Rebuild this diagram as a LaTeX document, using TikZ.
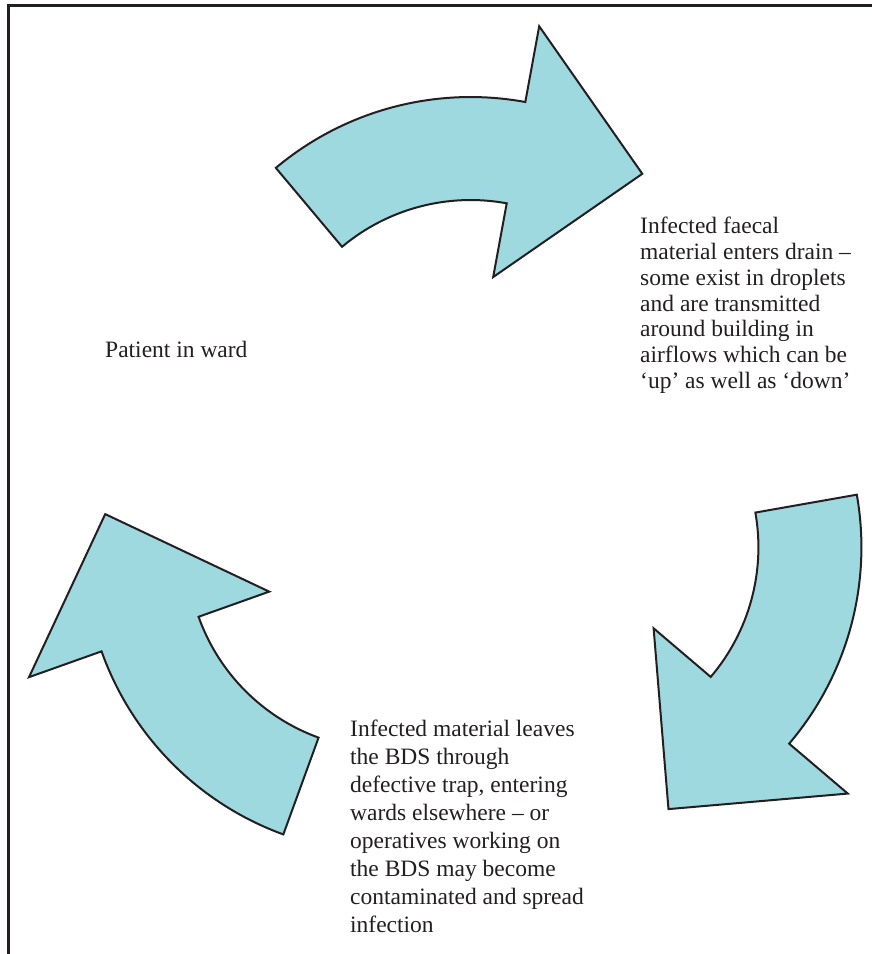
\documentclass[tikz,border=0pt]{standalone}
\usepackage{fontspec}
\setmainfont{Liberation Serif}
\usetikzlibrary{positioning}
\definecolor{flowfill}{RGB}{158,217,224}
\definecolor{inkblack}{RGB}{35,31,32}

\begin{document}
\begin{tikzpicture}[
        x=1pt, y=1pt,
        note/.style={anchor=north west, align=left, inner sep=0pt, text=inkblack, font=\fontsize{23.5}{25.8}\selectfont},
        widenote/.style={note, font=\fontsize{23.5}{27.9}\selectfont},
        flow/.style={draw=inkblack, fill=flowfill, line width=2pt, line join=miter}
    ]
    \useasboundingbox (0,0) rectangle (872,-954);

    % Frame
    \draw[inkblack, line width=3pt] (8,-954) -- (8,-5) -- (872,-5);

    % Arrows
    \foreach \turn in {0,-120,-240}{
        \begin{scope}[shift={(472,-499)}, rotate=\turn, shift={(90.8:99)}]
            \draw[flow] (130:303) arc[start angle=130, end angle=79.6, radius=303]
                -- (79.6:380) -- (52.8:284) -- (79.6:125) -- (79.6:200)
                arc[start angle=79.6, end angle=130, radius=200] -- cycle;
        \end{scope}
    }

    % Text
    \node (ward) at (105,-357) [note, anchor=base west] {Patient in ward};
    \node (drain) at (640,-217) [note] {Infected faecal\\material enters drain –\\some exist in droplets\\and are transmitted\\around building in\\airflows which can be\\‘up’ as well as ‘down’};
    \node (leak) at (350,-720) [widenote] {Infected material leaves\\the BDS through\\defective trap, entering\\wards elsewhere – or\\operatives working on\\the BDS may become\\contaminated and spread\\infection};
\end{tikzpicture}
\end{document}
